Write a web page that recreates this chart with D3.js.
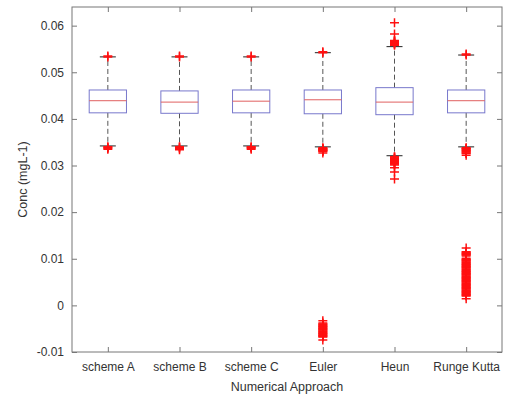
<!DOCTYPE html>
<html>
<head>
<meta charset="utf-8">
<script src="https://cdn.jsdelivr.net/npm/d3@7"></script>
<style>
  body { margin: 0; background: #fff; }
  text { font-family: "Liberation Sans", Arial, sans-serif; fill: #333; }
</style>
</head>
<body>
<div id="chart"></div>
<script>
// box statistics
var categories = ["scheme A", "scheme B", "scheme C", "Euler", "Heun", "Runge Kutta"];
var q1 = [0.0413, 0.0412, 0.0413, 0.0411, 0.0409, 0.0413];
var median = [0.0439, 0.0436, 0.0438, 0.0441, 0.0436, 0.0439];
var q3 = [0.0462, 0.0460, 0.0462, 0.0462, 0.0467, 0.0462];
var whiskerLow = [0.0342, 0.0342, 0.0342, 0.0340, 0.0321, 0.0340];
var whiskerHigh = [0.0533, 0.0533, 0.0533, 0.0542, 0.0555, 0.0537];

// outliers (red +)
var outA = [0.0533, 0.0535, 0.0340, 0.0339, 0.0337, 0.0335];
var outB = [0.0533, 0.0535, 0.0340, 0.0339, 0.0337, 0.0334];
var outC = [0.0533, 0.0535, 0.0340, 0.0339, 0.0337, 0.0335];
var outEuler = [0.0542, 0.0544, 0.0338, 0.0337, 0.0336, 0.0335, 0.0334, 0.0333, 0.0332, 0.0331, 0.0330, 0.0327,
  -0.0033, -0.0038, -0.0040, -0.0041, -0.0043, -0.0044, -0.0046, -0.0047, -0.0049, -0.0050,
  -0.0052, -0.0053, -0.0055, -0.0056, -0.0058, -0.0059, -0.0061, -0.0062, -0.0064, -0.0065,
  -0.0067, -0.0068, -0.0074];
var outHeun = [0.0606, 0.0582, 0.0568, 0.0567, 0.0566, 0.0564, 0.0563, 0.0561, 0.0560, 0.0558,
  0.0319, 0.0318, 0.0316, 0.0315, 0.0313, 0.0312, 0.0310, 0.0309, 0.0307, 0.0306, 0.0304,
  0.0303, 0.0301, 0.0295, 0.0286, 0.0271];
var outRK = [0.0537, 0.0539, 0.0338, 0.0337, 0.0336, 0.0335, 0.0333, 0.0332, 0.0330, 0.0329, 0.0327, 0.0326, 0.0322,
  0.0123, 0.0115, 0.0114, 0.0112, 0.0111, 0.0109, 0.0108, 0.0106, 0.0101, 0.0099, 0.0098,
  0.0096, 0.0095, 0.0093, 0.0092, 0.0090, 0.0089, 0.0087, 0.0086, 0.0084, 0.0083, 0.0081,
  0.0080, 0.0078, 0.0077, 0.0075, 0.0074, 0.0072, 0.0071, 0.0069, 0.0068, 0.0066, 0.0065,
  0.0063, 0.0062, 0.0060, 0.0059, 0.0057, 0.0056, 0.0054, 0.0053, 0.0051, 0.0050, 0.0048,
  0.0047, 0.0045, 0.0044, 0.0042, 0.0041, 0.0039, 0.0038, 0.0036, 0.0035, 0.0033, 0.0032,
  0.0030, 0.0029, 0.0027, 0.0026, 0.0024, 0.0023, 0.0021, 0.0020, 0.0014];
var outliers = [outA, outB, outC, outEuler, outHeun, outRK];

var yTicks = [-0.01, 0, 0.01, 0.02, 0.03, 0.04, 0.05, 0.06];

var width = 508, height = 395;
var margin = {top: 7, right: 6, bottom: 43, left: 72};
var plotW = width - margin.left - margin.right;
var plotH = height - margin.top - margin.bottom;

var svg = d3.select("#chart").append("svg")
    .attr("width", width)
    .attr("height", height);

var g = svg.append("g")
    .attr("transform", "translate(" + margin.left + "," + margin.top + ")");

var x = d3.scalePoint().domain(categories).range([0, plotW]).padding(0.5);
var y = d3.scaleLinear().domain([-0.01, 0.064]).range([plotH, 0]);
var step = x.step();
var boxW = step * 0.52;
var capW = 16;
var plus = 4.5;

var data = categories.map(function (c, i) {
    return {cat: c, q1: q1[i], med: median[i], q3: q3[i], lo: whiskerLow[i], hi: whiskerHigh[i], out: outliers[i]};
});

var box = g.selectAll(".box").data(data).enter().append("g")
    .attr("class", "box")
    .attr("transform", function (d) { return "translate(" + x(d.cat) + ",0)"; });

// whiskers
box.append("line")
    .attr("y1", function (d) { return y(d.q3); })
    .attr("y2", function (d) { return y(d.hi); })
    .attr("stroke", "#555").attr("stroke-dasharray", "5,3");
box.append("line")
    .attr("y1", function (d) { return y(d.q1); })
    .attr("y2", function (d) { return y(d.lo); })
    .attr("stroke", "#555").attr("stroke-dasharray", "5,3");

// caps
box.append("line")
    .attr("x1", -capW / 2).attr("x2", capW / 2)
    .attr("y1", function (d) { return y(d.hi); })
    .attr("y2", function (d) { return y(d.hi); })
    .attr("stroke", "#222");
box.append("line")
    .attr("x1", -capW / 2).attr("x2", capW / 2)
    .attr("y1", function (d) { return y(d.lo); })
    .attr("y2", function (d) { return y(d.lo); })
    .attr("stroke", "#222");

// box
box.append("rect")
    .attr("x", -boxW / 2)
    .attr("width", boxW)
    .attr("y", function (d) { return y(d.q3); })
    .attr("height", function (d) { return y(d.q1) - y(d.q3); })
    .attr("fill", "none")
    .attr("stroke", "#7878cc");

// median
box.append("line")
    .attr("x1", -boxW / 2).attr("x2", boxW / 2)
    .attr("y1", function (d) { return y(d.med); })
    .attr("y2", function (d) { return y(d.med); })
    .attr("stroke", "#e06060");

// outliers
box.selectAll(".out").data(function (d) { return d.out; }).enter().append("path")
    .attr("class", "out")
    .attr("d", function (v) {
        var yy = y(v);
        return "M" + (-plus) + "," + yy + "H" + plus + "M0," + (yy - plus) + "V" + (yy + plus);
    })
    .attr("stroke", "#ff1010")
    .attr("stroke-width", 1.5)
    .attr("fill", "none");

// axes frame
g.append("rect")
    .attr("width", plotW).attr("height", plotH)
    .attr("fill", "none").attr("stroke", "#777");

var yAxis = g.append("g")
    .call(d3.axisLeft(y).tickValues(yTicks).tickSizeInner(-5).tickSizeOuter(0)
        .tickPadding(8).tickFormat(function (d) { return d === 0 ? "0" : d3.format(".2f")(d).replace("\u2212", "-"); }));
yAxis.select(".domain").remove();
yAxis.selectAll("line").attr("stroke", "#777");
yAxis.selectAll("text").style("font-size", "12px").attr("fill", "#444");

var yAxisR = g.append("g")
    .attr("transform", "translate(" + plotW + ",0)")
    .call(d3.axisRight(y).tickValues(yTicks).tickSizeInner(-5).tickSizeOuter(0).tickFormat(""));
yAxisR.select(".domain").remove();
yAxisR.selectAll("line").attr("stroke", "#777");

var xAxis = g.append("g")
    .attr("transform", "translate(0," + plotH + ")")
    .call(d3.axisBottom(x).tickSizeInner(-5).tickSizeOuter(0).tickPadding(10));
xAxis.select(".domain").remove();
xAxis.selectAll("line").attr("stroke", "#777");
xAxis.selectAll("text").style("font-size", "12px").attr("fill", "#444");

var xAxisT = g.append("g")
    .call(d3.axisTop(x).tickSizeInner(-5).tickSizeOuter(0).tickFormat(""));
xAxisT.select(".domain").remove();
xAxisT.selectAll("line").attr("stroke", "#777");

// labels
svg.append("text")
    .attr("x", margin.left + plotW / 2)
    .attr("y", 391)
    .attr("text-anchor", "middle")
    .style("font-size", "12.5px")
    .text("Numerical Approach");

svg.append("text")
    .attr("transform", "translate(27," + (margin.top + plotH / 2) + ") rotate(-90)")
    .attr("text-anchor", "middle")
    .style("font-size", "12.5px")
    .text("Conc (mgL-1)");
</script>
</body>
</html>
